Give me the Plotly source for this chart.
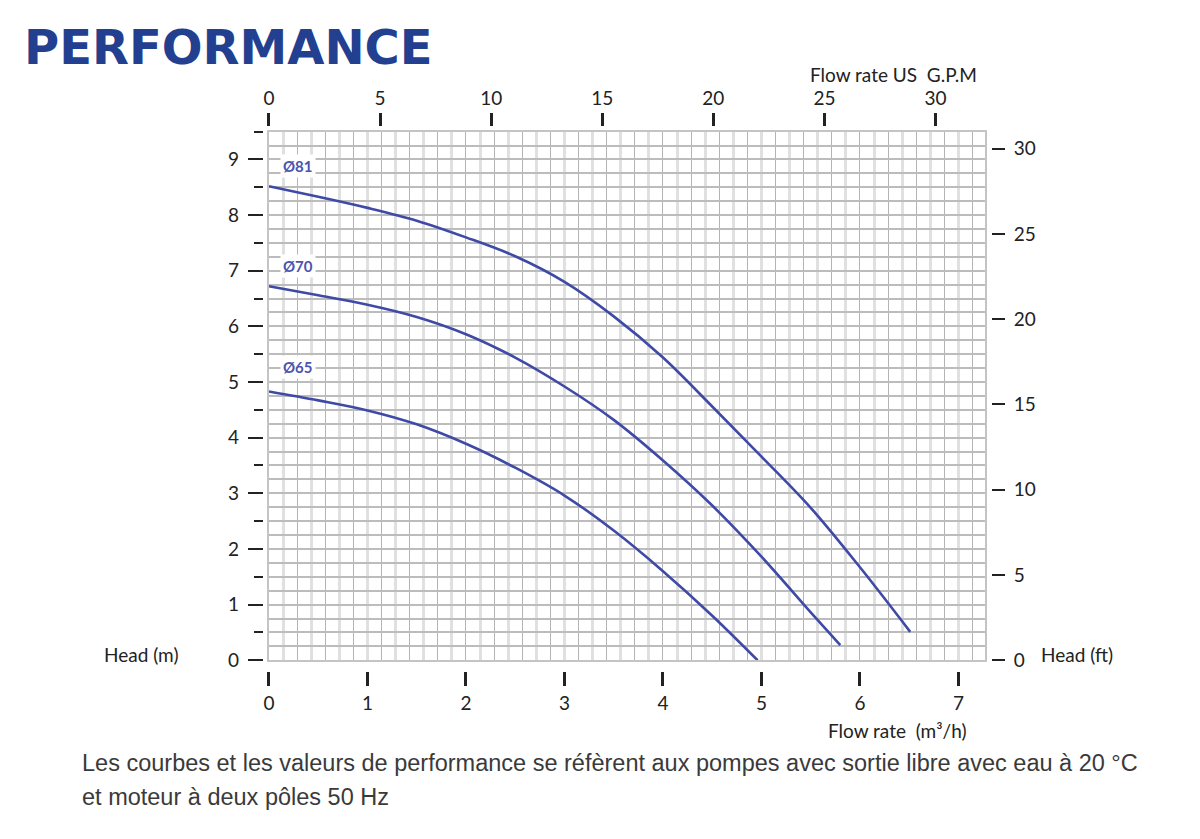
import plotly.graph_objects as go

# pump curves, flow rate (m3/h) vs head (m)
q_81 = [0.0, 0.5, 1.0, 1.5, 2.0, 2.5, 3.0, 3.5, 4.0, 4.5, 5.0, 5.5, 6.0, 6.51]
h_81 = [8.52, 8.33, 8.13, 7.90, 7.60, 7.26, 6.80, 6.18, 5.44, 4.56, 3.66, 2.74, 1.67, 0.51]

q_70 = [0.0, 0.5, 1.0, 1.5, 2.0, 2.5, 3.0, 3.5, 4.0, 4.5, 5.0, 5.5, 5.8]
h_70 = [6.72, 6.56, 6.39, 6.17, 5.86, 5.44, 4.92, 4.32, 3.59, 2.78, 1.86, 0.86, 0.27]

q_65 = [0.0, 0.5, 1.0, 1.5, 2.0, 2.5, 3.0, 3.5, 4.0, 4.5, 4.96]
h_65 = [4.83, 4.67, 4.49, 4.24, 3.89, 3.46, 2.96, 2.33, 1.60, 0.80, 0.0]

curve_names = ["Ø81", "Ø70", "Ø65"]
label_heads = [8.88, 7.09, 5.27]

x_max = 7.27      # m3/h
y_max = 9.5       # m
gpm_max = 32.23   # top scale
ft_max = 31.0     # right scale

W, H = 1200, 839
blue = "#3f4aa6"
ink = "#222222"
tick_font = dict(family="Lato", size=19, color=ink)


def px_x(v):
    return v / W


def px_y(v):
    return 1 - v / H


fig = go.Figure()
for q, h, name in zip([q_81, q_70, q_65], [h_81, h_70, h_65], curve_names):
    fig.add_trace(go.Scatter(x=q, y=h, mode="lines", name=name,
                             line=dict(color=blue, width=2.6, shape="spline", smoothing=1.0),
                             showlegend=False, hoverinfo="skip"))

# dummy traces so the extra tick axes get drawn
fig.add_trace(go.Scatter(x=[0], y=[0], xaxis="x2", yaxis="y", mode="none", showlegend=False))
fig.add_trace(go.Scatter(x=[0], y=[0], xaxis="x3", yaxis="y", mode="none", showlegend=False))
fig.add_trace(go.Scatter(x=[0], y=[0], xaxis="x", yaxis="y2", mode="none", showlegend=False))
fig.add_trace(go.Scatter(x=[0], y=[0], xaxis="x", yaxis="y3", mode="none", showlegend=False))

fig.update_layout(
    width=W, height=H,
    margin=dict(l=0, r=0, t=0, b=0),
    paper_bgcolor="white", plot_bgcolor="white",
    xaxis=dict(domain=[px_x(264.3), px_x(984)], range=[0, x_max], anchor="y",
               tick0=0, dtick=2 / 7, showticklabels=False, ticks="",
               showgrid=True, gridcolor="#b4b4b4", gridwidth=1,
               minor=dict(tick0=0, dtick=1 / 7, showgrid=True, gridcolor="#e0e0e0", gridwidth=3),
               showline=True, linecolor="#c4c4c4", linewidth=2, mirror=True, zeroline=False),
    yaxis=dict(domain=[px_y(669), px_y(133.4)], range=[0, y_max], anchor="x",
               tick0=0, dtick=0.25, showticklabels=False, ticks="",
               showgrid=True, gridcolor="#bcbcbc", gridwidth=1.5,
               showline=True, linecolor="#c4c4c4", linewidth=2, mirror=True, zeroline=False),
    # bottom m3/h ticks
    xaxis2=dict(overlaying="x", anchor="free", position=px_y(680), side="bottom",
                range=[0, x_max], tick0=0, dtick=1, ticks="outside", ticklen=14,
                tickwidth=2.5, tickcolor=ink, showgrid=False, zeroline=False, showline=False,
                tickfont=tick_font, ticklabelstandoff=1),
    # top GPM ticks
    xaxis3=dict(overlaying="x", anchor="free", position=px_y(128), side="top",
                range=[0, gpm_max], tick0=0, dtick=5, ticks="outside", ticklen=13,
                tickwidth=2.5, tickcolor=ink, showgrid=False, zeroline=False, showline=False,
                tickfont=tick_font, ticklabelstandoff=1),
    # left head (m) ticks
    yaxis2=dict(overlaying="y", anchor="free", position=px_x(258), side="left",
                range=[0, y_max], tick0=0, dtick=1, ticks="outside", ticklen=15,
                tickwidth=2, tickcolor=ink, showgrid=False, zeroline=False, showline=False,
                minor=dict(ticks="outside", dtick=0.5, tick0=0, ticklen=9, tickwidth=2, tickcolor=ink),
                tickfont=tick_font, ticklabelstandoff=5),
    # right head (ft) ticks
    yaxis3=dict(overlaying="y", anchor="free", position=px_x(990), side="right",
                range=[0, ft_max], tick0=0, dtick=5, ticks="outside", ticklen=13,
                tickwidth=2, tickcolor=ink, showgrid=False, zeroline=False, showline=False,
                tickfont=tick_font, ticklabelstandoff=5),
)

caption_font = dict(family="Liberation Sans", size=23.5, color="#3a3a3a")
anns = [
    dict(text="<b>PERFORMANCE</b>", x=px_x(16), y=px_y(48), xanchor="left",
         font=dict(family="DejaVu Sans", size=48, color="#233f8f")),
    dict(text="Flow rate US  G.P.M", x=px_x(978), y=px_y(75), xanchor="right", font=tick_font),
    dict(text="Flow rate  (m³/h)", x=px_x(968), y=px_y(740), xanchor="right", font=tick_font),
    dict(text="Head (m)", x=px_x(96), y=px_y(663), xanchor="left", font=tick_font),
    dict(text="Head (ft)", x=px_x(1038), y=px_y(663), xanchor="left", font=tick_font),
    dict(text="Les courbes et les valeurs de performance se réfèrent aux pompes avec sortie libre avec eau à 20 °C",
         x=px_x(74), y=px_y(773), xanchor="left", font=caption_font),
    dict(text="et moteur à deux pôles 50 Hz", x=px_x(74), y=px_y(808), xanchor="left", font=caption_font),
]
for a in anns:
    a.update(xref="paper", yref="paper", yanchor="middle", showarrow=False)
    fig.add_annotation(**a)

for name, yh in zip(curve_names, label_heads):
    fig.add_annotation(x=0.29, y=yh, xref="x", yref="y", text="<b>" + name + "</b>",
                       showarrow=False, bgcolor="white", borderpad=2,
                       font=dict(family="Lato", size=15, color="#4a55b0"))

fig.write_html("out.html", config={"displayModeBar": False},
               post_script="document.body.style.margin='0px';document.body.style.overflow='hidden';")
